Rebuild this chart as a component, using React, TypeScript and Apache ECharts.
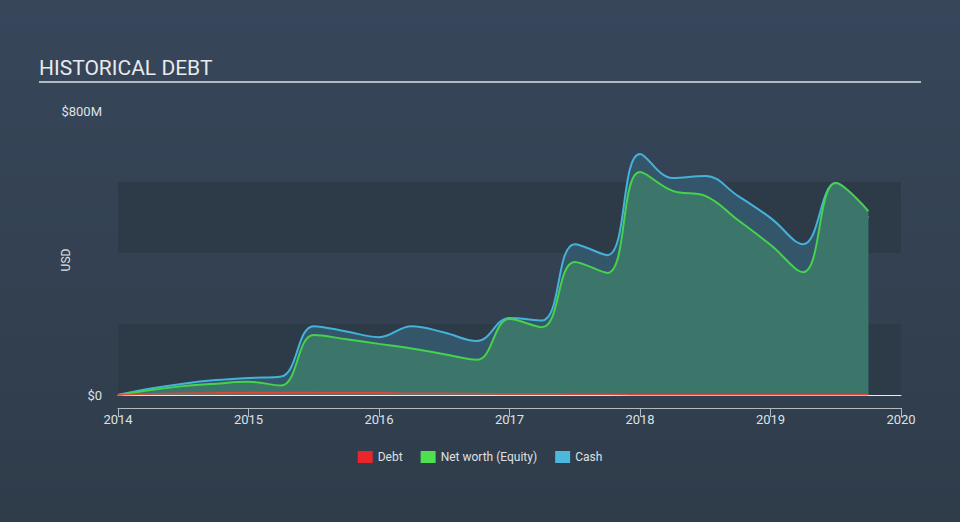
import React, { useEffect, useRef } from "react";
import * as echarts from "echarts";

const years = [2014, 2014.25, 2014.5, 2014.75, 2015, 2015.25, 2015.5, 2015.75, 2016, 2016.25, 2016.5, 2016.75, 2017, 2017.25, 2017.5, 2017.75, 2018, 2018.25, 2018.5, 2018.75, 2019, 2019.25, 2019.5, 2019.75];
const cashValues = [0, 18, 32, 42, 48, 52, 194, 179, 163, 194, 176, 152, 217, 210, 425, 394, 679, 611, 617, 561, 499, 425, 597, 499];
const equityValues = [0, 14, 25, 32, 37, 27, 169, 157, 144, 131, 115, 99, 214, 191, 375, 344, 628, 575, 561, 493, 423, 346, 597, 518];
const debtValues = [0, 3, 5, 6, 7, 7, 7, 6, 6, 5, 5, 4, 3, 3, 2, 2, 1, 1, 1, 1, 1, 1, 1, 1];
const xTicks = [2014, 2015, 2016, 2017, 2018, 2019, 2020];
const yMax = 800;

export default function App() {
  const ref = useRef<HTMLDivElement>(null);
  useEffect(() => {
    if (!ref.current) return;
    const chart = echarts.init(ref.current, undefined, { renderer: "svg" });
    const pairs = (vals: number[]) => vals.map((v, i) => [years[i], v]);
    chart.setOption({
      animation: false,
      backgroundColor: {
        type: "linear", x: 0, y: 0, x2: 0, y2: 1,
        colorStops: [{ offset: 0, color: "#37465a" }, { offset: 1, color: "#2f3c4a" }],
      },
      textStyle: { fontFamily: "Roboto" },
      grid: { left: 118, right: 59, top: 111, bottom: 127 },
      graphic: [
        { type: "text", left: 39, top: 57, style: { text: "HISTORICAL DEBT", fill: "#e8eaec", font: "21px Roboto" } },
        { type: "line", shape: { x1: 39, y1: 82, x2: 921, y2: 82 }, style: { stroke: "#b4b9bf", lineWidth: 2 } },
        {
          type: "text", x: 66, y: 260, rotation: Math.PI / 2,
          style: { text: "USD", fill: "#dde1e5", font: "12px Roboto", align: "center", verticalAlign: "middle" },
        },
      ],
      legend: {
        top: 446, left: "center", icon: "rect", itemWidth: 15, itemHeight: 12, itemGap: 18,
        textStyle: { color: "#dde1e5", fontSize: 12, fontFamily: "Roboto" },
        data: ["Debt", "Net worth (Equity)", "Cash"],
      },
      xAxis: [
        {
          type: "value", min: xTicks[0], max: xTicks[xTicks.length - 1], interval: 1, offset: 13,
          axisLine: { show: true, onZero: false, lineStyle: { color: "#b4b9bf", width: 1 } },
          axisTick: { show: true, length: 9, lineStyle: { color: "#b4b9bf" } },
          axisLabel: { color: "#dde1e5", fontSize: 13, margin: 5, formatter: (v: number) => String(v) },
          splitLine: { show: false },
        },
        {
          type: "value", min: xTicks[0], max: xTicks[xTicks.length - 1], position: "bottom", offset: 0,
          axisLine: { show: true, onZero: false, lineStyle: { color: "#e8eaec", width: 1 } },
          axisTick: { show: false }, axisLabel: { show: false }, splitLine: { show: false },
        },
      ],
      yAxis: {
        type: "value", min: 0, max: yMax, interval: 200,
        axisLine: { show: false }, axisTick: { show: false },
        axisLabel: {
          color: "#dde1e5", fontSize: 13, margin: 16,
          formatter: (v: number) => (v === 0 ? "$0" : v === yMax ? "$800M" : ""),
        },
        splitLine: { show: false },
        splitArea: { show: true, areaStyle: { color: ["#2d3a48", "rgba(0,0,0,0)"] } },
      },
      series: [
        {
          name: "Cash", type: "line", smooth: 0.4, symbol: "none", data: pairs(cashValues), z: 2,
          itemStyle: { color: "#4bb8dc" },
          lineStyle: { color: "#45b2da", width: 2 },
          areaStyle: { color: "#34566b", opacity: 1 },
        },
        {
          name: "Net worth (Equity)", type: "line", smooth: 0.4, symbol: "none", data: pairs(equityValues), z: 3,
          itemStyle: { color: "#4fe04f" },
          lineStyle: { color: "#45d24c", width: 2 },
          areaStyle: { color: "#3c7569", opacity: 1 },
        },
        {
          name: "Debt", type: "line", smooth: 0.4, symbol: "none", data: pairs(debtValues), z: 4,
          itemStyle: { color: "#e8262b" },
          lineStyle: { color: "#e0453c", width: 1.5 },
          areaStyle: { color: "rgba(200,90,80,0.45)" },
        },
      ],
    });
    return () => chart.dispose();
  }, []);
  return <div ref={ref} style={{ position: "absolute", left: 0, top: 0, width: 960, height: 522 }} />;
}
